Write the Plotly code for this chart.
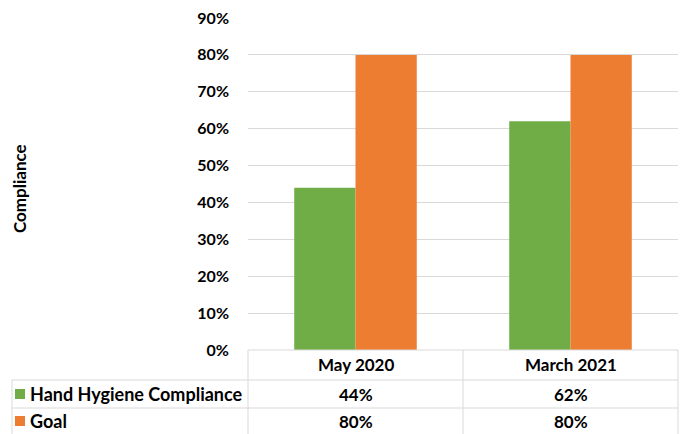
import plotly.graph_objects as go

categories = ["May 2020", "March 2021"]
series_names = ["Hand Hygiene Compliance", "Goal"]
compliance = [0.44, 0.62]
goal = [0.80, 0.80]
tick_vals = [0, 0.1, 0.2, 0.3, 0.4, 0.5, 0.6, 0.7, 0.8, 0.9]
tick_text = ["0%", "10%", "20%", "30%", "40%", "50%", "60%", "70%", "80%", "90%"]

GREEN = "#70AD47"
ORANGE = "#ED7D31"
GRID = "#D9D9D9"
FONT = "Lato"

W, H = 682, 434
L, R, T, B = 248, 678, 18, 350  # plot area in pixels


def px(x):
    return (x - L) / (R - L)


def py(y):
    return (B - y) / (B - T)


fig = go.Figure()
fig.add_trace(go.Bar(x=categories, y=compliance, name=series_names[0],
                     marker=dict(color=GREEN, line=dict(width=0))))
fig.add_trace(go.Bar(x=categories, y=goal, name=series_names[1],
                     marker=dict(color=ORANGE, line=dict(width=0))))

shapes = []
line = dict(color=GRID, width=1)
shapes.append(dict(type="line", xref="paper", yref="paper", x0=px(L), x1=px(R), y0=py(B), y1=py(B), line=line))
for yy in [380, 408]:
    shapes.append(dict(type="line", xref="paper", yref="paper", x0=px(12), x1=px(R), y0=py(yy), y1=py(yy), line=line))
for xx in [L, (L + R) / 2, R]:
    shapes.append(dict(type="line", xref="paper", yref="paper", x0=px(xx), x1=px(xx), y0=py(B), y1=py(H + 2), line=line))
shapes.append(dict(type="line", xref="paper", yref="paper", x0=px(12), x1=px(12), y0=py(380), y1=py(H + 2), line=line))
for yc, col in [(394, GREEN), (421, ORANGE)]:
    shapes.append(dict(type="rect", xref="paper", yref="paper", x0=px(15), x1=px(25),
                       y0=py(yc + 5), y1=py(yc - 5), fillcolor=col, line=dict(width=0)))

tfont = dict(family=FONT, size=17, color="#000000", weight="bold")
lfont = dict(family=FONT, size=18, color="#000000", weight="bold")
kfont = dict(family=FONT, size=16, color="#000000", weight="bold")
ann = []
for i, c in enumerate(categories):
    for yc, txt in [(365, c), (394, f"{round(compliance[i]*100)}%"), (421, f"{round(goal[i]*100)}%")]:
        ann.append(dict(x=c, xref="x", y=py(yc), yref="paper", text=txt, showarrow=False,
                        xanchor="center", yanchor="middle", font=tfont))
for yc, name in [(394, series_names[0]), (421, series_names[1])]:
    ann.append(dict(x=px(28), xref="paper", y=py(yc), yref="paper", text=name, showarrow=False,
                    xanchor="left", yanchor="middle", font=lfont))
ann.append(dict(x=px(19), xref="paper", y=py(189), yref="paper", text="Compliance", showarrow=False,
                textangle=-90, xanchor="center", yanchor="middle", font=tfont))

fig.update_layout(
    width=W, height=H,
    margin=dict(l=L, r=W - R, t=T, b=H - B, autoexpand=False),
    paper_bgcolor="white", plot_bgcolor="white",
    barmode="group", bargap=0.43, bargroupgap=0,
    showlegend=False,
    shapes=shapes, annotations=ann,
    xaxis=dict(showticklabels=False, showline=False, showgrid=False, zeroline=False, fixedrange=True),
    yaxis=dict(range=[0, 0.9], tickvals=tick_vals, ticktext=tick_text, showgrid=True, gridcolor=GRID,
               gridwidth=1, zeroline=False, showline=False, ticks="", ticklabelstandoff=18,
               tickfont=kfont, fixedrange=True),
)

fig.write_html("out.html", config={"displayModeBar": False},
               post_script="document.body.style.margin='0';")
